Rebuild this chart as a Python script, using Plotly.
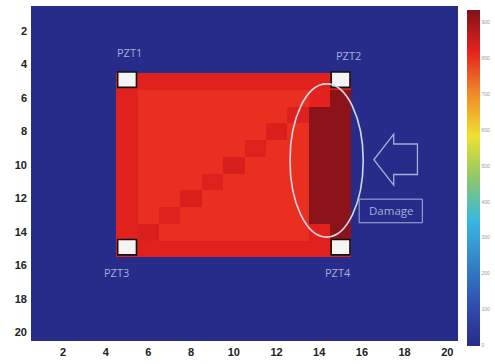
import plotly.graph_objects as go

# ---------------- data ----------------
n_cells = 20
zmin, zmax = 0, 935
background = 0

B, I, K = 826, 804, 923   # border red, inner red, damaged dark red
# rows 5..15, columns 5..15 of the damage-index map
active_rows = [
    [B, B, B, B, B, B, B, B, B, B, B],          # row 5
    [B, I, I, I, I, I, I, I, I, 824, K],        # row 6
    [B, I, I, I, I, I, I, I, 830, K, K],        # row 7
    [B, I, I, I, I, I, I, 834, I, K, K],        # row 8
    [B, I, I, I, I, I, 828, I, I, K, K],        # row 9
    [B, I, I, I, I, 838, I, I, I, K, K],        # row 10
    [B, I, I, I, 830, I, I, I, I, K, K],        # row 11
    [B, I, I, 834, I, I, I, I, I, K, K],        # row 12
    [B, I, 828, I, I, I, I, I, I, K, K],        # row 13
    [B, 834, I, I, I, I, I, I, I, B, K],        # row 14
    [828, B, B, B, B, B, B, B, B, B, B],        # row 15
]
active_row_start = 5
active_col_start = 5

sensor_names = ["PZT1", "PZT2", "PZT3", "PZT4"]
sensor_x = [5, 15, 5, 15]
sensor_y = [5, 5, 15, 15]
label_x = [5.1, 15.35, 4.5, 14.9]
label_y = [3.25, 3.45, 16.4, 16.4]

x_ticks = [2, 4, 6, 8, 10, 12, 14, 16, 18, 20]
y_ticks = [2, 4, 6, 8, 10, 12, 14, 16, 18, 20]
cbar_ticks = [0, 100, 200, 300, 400, 500, 600, 700, 800, 900]

ellipse_box = [12.63, 5.15, 16.06, 14.3]      # x0, y0, x1, y1
arrow_x = [16.56, 17.49, 17.49, 18.6, 18.6, 17.49, 17.49]
arrow_y = [9.68, 8.15, 8.74, 8.74, 10.56, 10.56, 11.2]
damage_box = [15.87, 12.03, 18.83, 13.44]

# ---------------- build matrix ----------------
z = [[background] * n_cells for _ in range(n_cells)]
for i, row in enumerate(active_rows):
    for j, v in enumerate(row):
        z[active_row_start - 1 + i][active_col_start - 1 + j] = v

cells = list(range(1, n_cells + 1))

colorscale = [
    [0.0, "#272b89"],
    [0.125, "#2f4fb0"],
    [0.375, "#38b8e0"],
    [0.5, "#8cc868"],
    [0.625, "#f0e030"],
    [0.75, "#f08a28"],
    [0.875, "#e8221e"],
    [1.0, "#82111a"],
]

fig = go.Figure()
fig.add_trace(go.Heatmap(
    z=z, x=cells, y=cells, zmin=zmin, zmax=zmax,
    colorscale=colorscale,
    colorbar=dict(
        x=1.021, xanchor="left", xpad=0,
        y=0.488, yanchor="middle", ypad=0,
        len=336, lenmode="pixels",
        thickness=13, thicknessmode="pixels",
        outlinewidth=0,
        tickvals=cbar_ticks, ticks="",
        tickfont=dict(size=5, color="#999999", family="Liberation Sans"),
    ),
    hoverinfo="skip",
))

txt_col = "rgb(168,174,214)"

# sensor squares
hw, hh = 0.44, 0.46
for sx, sy in zip(sensor_x, sensor_y):
    fig.add_shape(type="rect", xref="x", yref="y",
                  x0=sx - hw, x1=sx + hw, y0=sy - hh - 0.1, y1=sy + hh - 0.1,
                  fillcolor="#f4f4f4", line=dict(color="#111111", width=1.6))

for name, lx, ly in zip(sensor_names, label_x, label_y):
    fig.add_annotation(x=lx, y=ly, text=name, showarrow=False,
                       font=dict(size=11, color=txt_col, family="Open Sans"))

# ellipse
fig.add_shape(type="circle", xref="x", yref="y",
              x0=ellipse_box[0], y0=ellipse_box[1], x1=ellipse_box[2], y1=ellipse_box[3],
              line=dict(color="#d4d6e4", width=1.6))

# arrow outline
path = "M " + " L ".join(f"{ax},{ay}" for ax, ay in zip(arrow_x, arrow_y)) + " Z"
fig.add_shape(type="path", xref="x", yref="y", path=path,
              line=dict(color=txt_col, width=1.3))

# damage box
fig.add_shape(type="rect", xref="x", yref="y",
              x0=damage_box[0], y0=damage_box[1], x1=damage_box[2], y1=damage_box[3],
              line=dict(color=txt_col, width=1))
fig.add_annotation(x=(damage_box[0] + damage_box[2]) / 2, y=(damage_box[1] + damage_box[3]) / 2,
                   text="Damage", showarrow=False,
                   font=dict(size=11.5, color=txt_col, family="Open Sans"))

tickfont = dict(size=11, color="#222222", family="Liberation Sans", weight="bold")
fig.update_xaxes(range=[0.5, 20.5], tickvals=x_ticks, showgrid=False, zeroline=False,
                 ticks="", tickfont=tickfont, ticklabelstandoff=3)
fig.update_yaxes(range=[20.5, 0.5], tickvals=y_ticks, showgrid=False, zeroline=False,
                 ticks="", tickfont=tickfont, ticklabelstandoff=3)

fig.update_layout(
    width=495, height=364,
    margin=dict(l=31, r=32, t=6, b=18),
    paper_bgcolor="white", plot_bgcolor="white",
    showlegend=False,
)

fig.write_html("out.html")
